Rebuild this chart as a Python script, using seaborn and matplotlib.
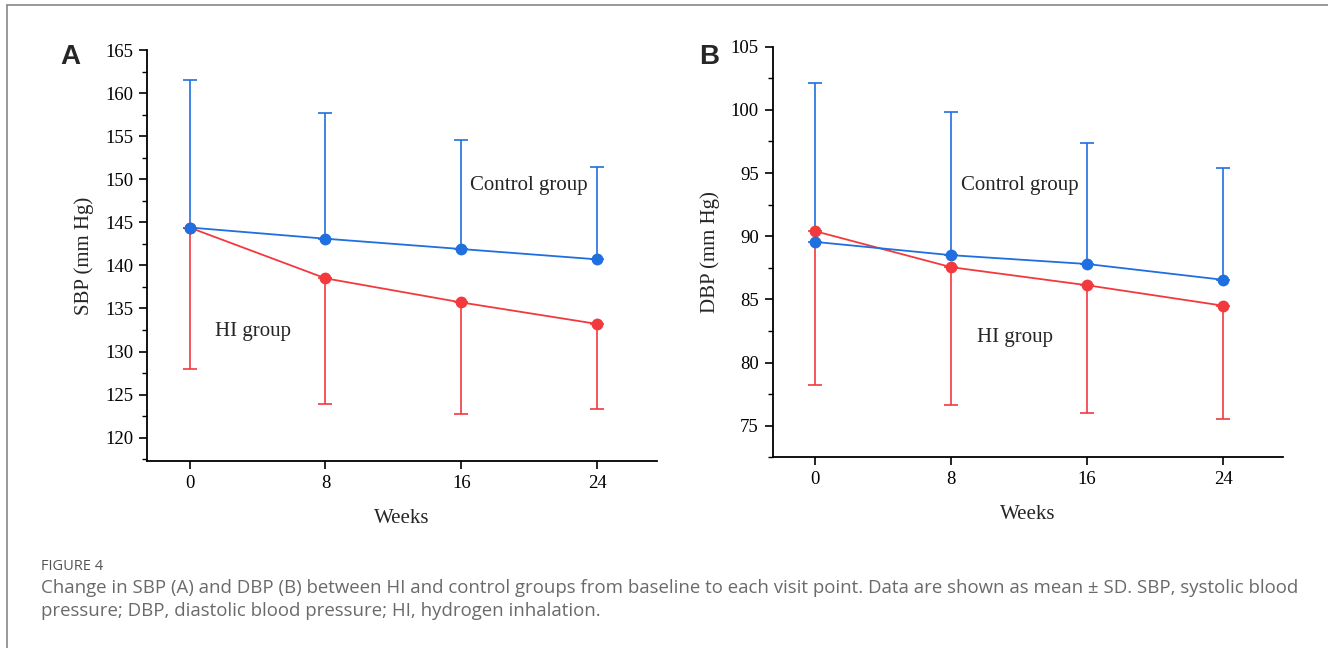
import numpy as np
import pandas as pd
import matplotlib
matplotlib.use("Agg")
import matplotlib.pyplot as plt
from matplotlib.lines import Line2D
from matplotlib.ticker import MultipleLocator
import seaborn as sns

# values (mean and one-sided SD end)
weeks = [0, 8, 16, 24]
sbp_control = [144.4, 143.1, 141.9, 140.7]
sbp_control_top = [161.5, 157.7, 154.5, 151.4]
sbp_hi = [144.4, 138.5, 135.7, 133.2]
sbp_hi_bottom = [128.0, 123.9, 122.7, 123.3]
dbp_control = [89.55, 88.5, 87.8, 86.55]
dbp_control_top = [102.1, 99.86, 97.4, 95.4]
dbp_hi = [90.4, 87.55, 86.12, 84.5]
dbp_hi_bottom = [78.24, 76.65, 76.0, 75.5]

BLUE = "#1f6fe0"
RED = "#f2393d"

sns.set_theme(style="ticks")
plt.rcParams["font.family"] = ["Liberation Serif", "DejaVu Serif"]

fig = plt.figure(figsize=(13.28, 6.48), dpi=100)
axA = fig.add_axes([0.1107, 0.2886, 0.384, 0.6342])
axB = fig.add_axes([0.5818, 0.2943, 0.384, 0.6336])


def draw_panel(ax, ctrl, ctrl_top, hi, hi_bot, ylim, ylabel):
    df = pd.DataFrame({
        "week": weeks * 2,
        "value": hi + ctrl,
        "group": ["HI group"] * 4 + ["Control group"] * 4,
    })
    # one-sided error bars
    hi_err = np.array(hi) - np.array(hi_bot)
    ctrl_err = np.array(ctrl_top) - np.array(ctrl)
    ax.errorbar(weeks, hi, yerr=[hi_err, np.zeros(4)], fmt="none", ecolor=RED,
                elinewidth=1.2, capsize=5, capthick=1.2, zorder=2)
    ax.errorbar(weeks, ctrl, yerr=[np.zeros(4), ctrl_err], fmt="none", ecolor=BLUE,
                elinewidth=1.2, capsize=5, capthick=1.2, zorder=2)
    sns.lineplot(data=df, x="week", y="value", hue="group",
                 palette={"HI group": RED, "Control group": BLUE},
                 hue_order=["HI group", "Control group"],
                 marker="o", markersize=8.5, markeredgewidth=0, linewidth=1.3,
                 legend=False, ax=ax, zorder=3)
    ax.set_xlim(-2.5, 27.5)
    ax.set_ylim(*ylim)
    ax.set_xticks(weeks)
    ax.yaxis.set_major_locator(MultipleLocator(5))
    ax.yaxis.set_minor_locator(MultipleLocator(2.5))
    sns.despine(ax=ax)
    for s in ["left", "bottom"]:
        ax.spines[s].set_linewidth(1.3)
        ax.spines[s].set_color("black")
    ax.tick_params(axis="both", which="major", direction="out", length=6,
                   width=1.2, labelsize=13.5, colors="black", pad=4)
    ax.tick_params(axis="y", which="minor", direction="out", length=3.5, width=1.0,
                   colors="black")
    ax.set_xlabel("Weeks", fontsize=15, labelpad=12)
    ax.set_ylabel(ylabel, fontsize=15, labelpad=8)


draw_panel(axA, sbp_control, sbp_control_top, sbp_hi, sbp_hi_bottom,
           (117.3, 165), "SBP (mm Hg)")
draw_panel(axB, dbp_control, dbp_control_top, dbp_hi, dbp_hi_bottom,
           (72.5, 105), "DBP (mm Hg)")

axA.text(16.5, 149.3, "Control group", fontsize=15, va="center", ha="left")
axA.text(1.5, 132.3, "HI group", fontsize=15, va="center", ha="left")
axB.text(8.6, 94.0, "Control group", fontsize=15, va="center", ha="left")
axB.text(9.5, 82.0, "HI group", fontsize=15, va="center", ha="left")

fig.text(60 / 1328, 1 - 57 / 648, "A", fontsize=20, fontweight="bold",
         family="Liberation Sans", va="center", ha="left")
fig.text(699 / 1328, 1 - 57 / 648, "B", fontsize=20, fontweight="bold",
         family="Liberation Sans", va="center", ha="left")

cap_font = ["Open Sans", "DejaVu Sans"]
fig.text(41 / 1328, 1 - 567 / 648, "FIGURE 4", fontsize=10.5, color="#555555",
         family=cap_font, va="center", ha="left")
fig.text(41 / 1328, 1 - 588 / 648,
         "Change in SBP (A) and DBP (B) between HI and control groups from baseline to each "
         "visit point. Data are shown as mean \u00b1 SD. SBP, systolic blood",
         fontsize=13.4, color="#6a6a6a", family=cap_font, va="center", ha="left")
fig.text(41 / 1328, 1 - 611 / 648,
         "pressure; DBP, diastolic blood pressure; HI, hydrogen inhalation.",
         fontsize=13.4, color="#6a6a6a", family=cap_font, va="center", ha="left")

# thin frame on the left and top
fig.add_artist(Line2D([6.5 / 1328, 6.5 / 1328], [0, 1 - 5 / 648], color="#888888",
                      linewidth=1.2, transform=fig.transFigure))
fig.add_artist(Line2D([6.5 / 1328, 1], [1 - 5 / 648, 1 - 5 / 648], color="#888888",
                      linewidth=1.2, transform=fig.transFigure))

fig.savefig("out.png", dpi=100)
